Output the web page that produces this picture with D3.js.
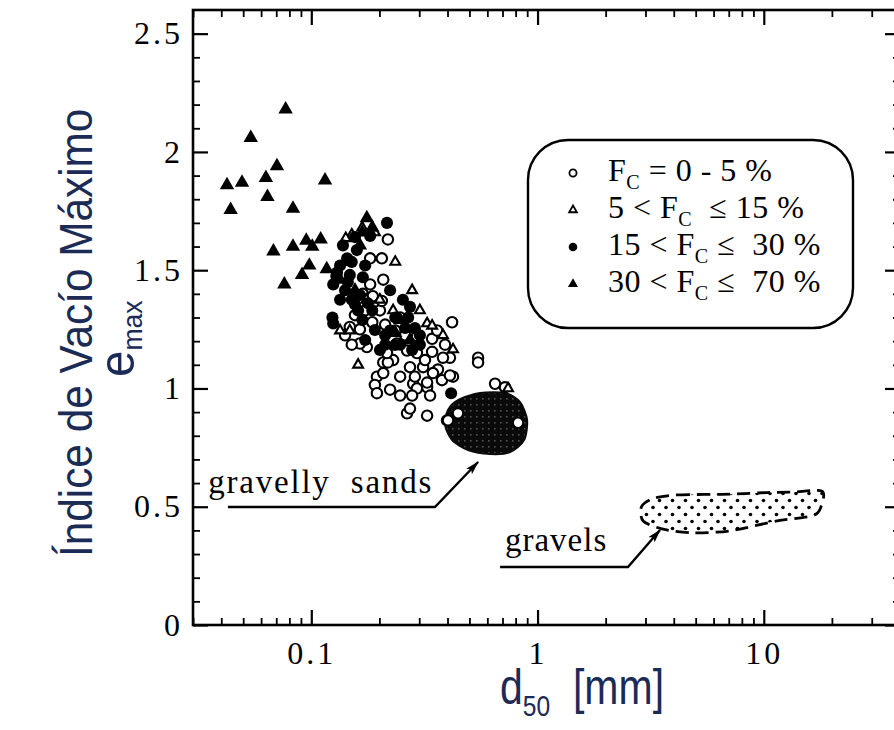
<!DOCTYPE html>
<html>
<head>
<meta charset="utf-8">
<script src="https://cdn.jsdelivr.net/npm/d3@7"></script>
<style>
  body { margin: 0; background: #fff; }
  svg { display: block; }
  text { white-space: pre; }
</style>
</head>
<body>
<svg id="chart" width="894" height="730"></svg>
<script>
// ---- axis ticks ----
const xTicks = [0.1, 1, 10];
const xTickLabels = ["0.1", "1", "10"];
const yTicks = [0, 0.5, 1, 1.5, 2, 2.5];
const yTickLabels = ["0", "0.5", "1", "1.5", "2", "2.5"];

// ---- series: [d50 (mm), e_max] ----
// Fc = 0 - 5 %  (open circles)
const fc0to5 = [
  [0.218,1.63],[0.205,1.55],[0.182,1.55],[0.208,1.46],[0.182,1.44],[0.169,1.40],[0.187,1.39],
  [0.164,1.25],[0.195,1.05],[0.191,1.015],[0.195,0.98],[0.208,1.11],[0.230,1.12],[0.247,1.05],
  [0.273,1.09],[0.282,1.02],[0.176,1.175],[0.164,1.19],[0.201,1.33],[0.205,1.37],[0.148,1.26],
  [0.141,1.225],[0.247,1.30],[0.239,1.19],[0.265,1.16],[0.419,1.28],[0.410,1.13],[0.546,1.13],
  [0.546,1.11],[0.293,1.22],[0.342,1.21],[0.293,1.15],[0.342,1.155],[0.382,1.13],[0.312,1.09],
  [0.363,1.08],[0.423,1.05],[0.378,1.035],[0.287,1.05],[0.325,1.005],[0.293,1.0],[0.649,1.02],
  [0.718,1.005],[0.265,0.895],[0.273,0.915],[0.325,0.885],[0.398,0.865],[0.218,1.11],[0.208,1.065],
  [0.216,1.15],[0.345,1.065],[0.325,1.025],[0.156,1.31],[0.186,1.28],[0.223,0.995],[0.247,0.97],
  [0.318,1.12],[0.390,1.185],[0.235,1.245],[0.445,0.895],[0.402,0.865],[0.820,0.855],[0.410,1.055],
  [0.173,1.33],[0.212,1.27],[0.260,1.225],[0.360,1.245],[0.151,1.185],[0.335,0.97],[0.279,0.97]
];
// 5 < Fc <= 15 %  (open triangles)
const fc5to15 = [
  [0.151,1.65],[0.142,1.635],[0.235,1.535],[0.279,1.415],[0.201,1.375],[0.161,1.10],[0.325,1.275],
  [0.382,1.225],[0.423,1.165],[0.741,1.0],[0.342,1.265],[0.148,1.245],[0.191,1.66],[0.134,1.245],
  [0.175,1.375],[0.230,1.33],[0.302,1.33],[0.168,1.68]
];
// 15 < Fc <= 30 %  (filled circles)
const fc15to30 = [
  [0.216,1.70],[0.223,1.415],[0.124,1.30],[0.125,1.275],[0.159,1.585],[0.144,1.55],[0.134,1.52],
  [0.129,1.475],[0.141,1.415],[0.151,1.375],[0.161,1.33],[0.168,1.29],[0.148,1.48],[0.182,1.645],
  [0.254,1.375],[0.273,1.345],[0.268,1.30],[0.287,1.255],[0.302,1.225],[0.223,1.245],[0.212,1.185],
  [0.247,1.185],[0.415,0.98],[0.134,1.375],[0.173,1.52],[0.156,1.64],[0.186,1.33],[0.302,1.185],
  [0.235,1.30],[0.138,1.605],[0.151,1.535],[0.130,1.49],[0.145,1.45],[0.164,1.395],[0.156,1.355],
  [0.125,1.44],[0.169,1.47],[0.178,1.36],[0.212,1.225],[0.2345,1.184],[0.260,1.256],[0.279,1.163],
  [0.191,1.247],[0.173,1.205],[0.201,1.163]
];
// 30 < Fc <= 70 %  (filled triangles)
const fc30to70 = [
  [0.077,2.18],[0.054,2.06],[0.0705,1.94],[0.0424,1.86],[0.0494,1.87],[0.063,1.89],[0.115,1.88],
  [0.064,1.81],[0.044,1.755],[0.083,1.76],[0.176,1.72],[0.186,1.68],[0.068,1.58],[0.083,1.60],
  [0.095,1.625],[0.101,1.60],[0.110,1.63],[0.098,1.52],[0.076,1.44],[0.091,1.48],[0.117,1.505],
  [0.168,1.66],[0.141,1.535],[0.156,1.415],[0.134,1.46],[0.247,1.29],[0.235,1.235],[0.273,1.205],
  [0.164,1.605]
];

// ---- regions ----
const gravellySandsZone = [
  [0.445,0.951],[0.557,0.981],[0.718,0.981],[0.837,0.942],[0.899,0.867],[0.872,0.782],
  [0.756,0.731],[0.617,0.723],[0.493,0.740],[0.419,0.782],[0.390,0.846],[0.402,0.909]
];
const gravelsZone = [
  [3.24,0.535],[4.14,0.550],[7.10,0.553],[10.34,0.560],[13.48,0.562],[18.1,0.566],
  [17.9,0.500],[16.52,0.462],[11.45,0.440],[7.10,0.398],[4.87,0.390],[3.59,0.405],
  [2.93,0.440],[2.88,0.500]
];

// ---- callouts ----
const calloutLabels = ["gravelly  sands", "gravels"];
const calloutAnchors = [[0.035, 0.558], [0.718, 0.313]];
const calloutPaths = [
  [[0.0428,0.499],[0.352,0.499],[0.546,0.689]],
  [[0.683,0.245],[2.51,0.245],[3.48,0.402]]
];

// ---- legend ----
const legendPre = ["", "5 < ", "15 < ", "30 < "];
const legendPost = [" = 0 - 5 %", "  \u2264 15 %", " \u2264  30 %", " \u2264  70 %"];

const svg = d3.select("#chart");
const ink = "#000";
const titleInk = "#1c2b55";
const serif = "'Liberation Serif', 'Times New Roman', serif";

const x = d3.scaleLog().domain([0.03, 40]).range([193, 900]);
const y = d3.scaleLinear().domain([0, 2.6]).range([625, 10]);

// ---- patterns / markers ----
const defs = svg.append("defs");
const tex = defs.append("pattern").attr("id", "sandTex")
  .attr("patternUnits", "userSpaceOnUse").attr("width", 6).attr("height", 6);
tex.append("rect").attr("width", 6).attr("height", 6).attr("fill", "#0a0a0a");
tex.append("rect").attr("x", 2).attr("y", 2).attr("width", 1.6).attr("height", 1.6).attr("fill", "#505050");

const dots = defs.append("pattern").attr("id", "gravelDots")
  .attr("patternUnits", "userSpaceOnUse").attr("width", 13).attr("height", 14);
dots.append("circle").attr("cx", 3).attr("cy", 3.5).attr("r", 1.8).attr("fill", ink);
dots.append("circle").attr("cx", 9.5).attr("cy", 10.5).attr("r", 1.8).attr("fill", ink);

defs.append("marker").attr("id", "arrow")
  .attr("viewBox", "0 0 14 8").attr("refX", 13).attr("refY", 4)
  .attr("markerUnits", "userSpaceOnUse").attr("markerWidth", 14).attr("markerHeight", 8)
  .attr("orient", "auto")
  .append("path").attr("d", "M0,0 L14,4 L0,8 L3,4 Z").attr("fill", ink);

// ---- axes ----
const xMinor = x.ticks().filter(v => Math.abs(Math.log10(v) - Math.round(Math.log10(v))) > 1e-6);
const yMinor = d3.range(0, 26).map(i => i / 10).filter(v => Math.abs(v * 2 - Math.round(v * 2)) > 1e-6);

function styleAxis(g, w) {
  g.select(".domain").remove();
  g.selectAll(".tick line").attr("stroke", ink).attr("stroke-width", w);
  g.selectAll(".tick text").attr("fill", ink)
    .attr("font-family", serif).attr("font-size", 32).attr("letter-spacing", 3);
}

// bottom
svg.append("g").attr("transform", `translate(0,${y(0)})`)
  .call(d3.axisBottom(x).tickValues(xTicks).tickFormat((d, i) => xTickLabels[i])
    .tickSize(-15).tickSizeOuter(0).tickPadding(16))
  .call(g => styleAxis(g, 2.2));
svg.append("g").attr("transform", `translate(0,${y(0)})`)
  .call(d3.axisBottom(x).tickValues(xMinor).tickFormat("").tickSize(-7).tickSizeOuter(0))
  .call(g => styleAxis(g, 1.8));
// top
svg.append("g").attr("transform", `translate(0,${y(2.6)})`)
  .call(d3.axisTop(x).tickValues(xTicks).tickFormat("").tickSize(-15).tickSizeOuter(0))
  .call(g => styleAxis(g, 2.2));
svg.append("g").attr("transform", `translate(0,${y(2.6)})`)
  .call(d3.axisTop(x).tickValues(xMinor).tickFormat("").tickSize(-7).tickSizeOuter(0))
  .call(g => styleAxis(g, 1.8));
// left
svg.append("g").attr("transform", `translate(${x(0.03)},0)`)
  .call(d3.axisLeft(y).tickValues(yTicks).tickFormat((d, i) => yTickLabels[i])
    .tickSize(-15).tickSizeOuter(0).tickPadding(10))
  .call(g => styleAxis(g, 2.2));
svg.append("g").attr("transform", `translate(${x(0.03)},0)`)
  .call(d3.axisLeft(y).tickValues(yMinor).tickFormat("").tickSize(-7).tickSizeOuter(0))
  .call(g => styleAxis(g, 1.8));
// right
svg.append("g").attr("transform", `translate(${x(40)},0)`)
  .call(d3.axisRight(y).tickValues(yTicks).tickFormat("").tickSize(-15).tickSizeOuter(0))
  .call(g => styleAxis(g, 2.2));
svg.append("g").attr("transform", `translate(${x(40)},0)`)
  .call(d3.axisRight(y).tickValues(yMinor).tickFormat("").tickSize(-7).tickSizeOuter(0))
  .call(g => styleAxis(g, 1.8));

// frame
svg.append("rect")
  .attr("x", x(0.03)).attr("y", y(2.6))
  .attr("width", x(40) - x(0.03)).attr("height", y(0) - y(2.6))
  .attr("fill", "none").attr("stroke", ink).attr("stroke-width", 2.6);

// ---- regions ----
const zoneLine = d3.line().x(d => x(d[0])).y(d => y(d[1])).curve(d3.curveCardinalClosed.tension(0.2));
svg.append("path").attr("d", zoneLine(gravellySandsZone))
  .attr("fill", "url(#sandTex)").attr("stroke", "#0a0a0a").attr("stroke-width", 2);
svg.append("path").attr("d", zoneLine(gravelsZone))
  .attr("fill", "url(#gravelDots)").attr("stroke", ink).attr("stroke-width", 2.8)
  .attr("stroke-dasharray", "13 7");

// ---- points ----
const plot = svg.append("g");
function drawSeries(data, type, size, fill, stroke, sw) {
  plot.append("g").selectAll("path").data(data).join("path")
    .attr("transform", d => `translate(${x(d[0])},${y(d[1])})`)
    .attr("d", d3.symbol().type(type).size(size))
    .attr("fill", fill).attr("stroke", stroke).attr("stroke-width", sw);
}
drawSeries(fc0to5, d3.symbolCircle, 85, "#fff", ink, 2.1);
drawSeries(fc5to15, d3.symbolTriangle, 42, "#fff", ink, 2.1);
drawSeries(fc15to30, d3.symbolCircle, 115, ink, "none", 0);
drawSeries(fc30to70, d3.symbolTriangle, 90, ink, "none", 0);

// ---- callouts ----
const calloutLine = d3.line().x(d => x(d[0])).y(d => y(d[1]));
calloutPaths.forEach((p, i) => {
  svg.append("path").attr("d", calloutLine(p))
    .attr("fill", "none").attr("stroke", ink).attr("stroke-width", 2.4)
    .attr("marker-end", "url(#arrow)");
  svg.append("text")
    .attr("x", x(calloutAnchors[i][0])).attr("y", y(calloutAnchors[i][1]))
    .attr("font-family", serif)
    .attr("font-size", 33).attr("letter-spacing", i === 0 ? 1.8 : 1).attr("fill", ink)
    .text(calloutLabels[i]);
});

// ---- legend ----
const lg = svg.append("g");
lg.append("rect").attr("x", 528).attr("y", 140).attr("width", 325).attr("height", 188)
  .attr("rx", 40).attr("ry", 40).attr("fill", "#fff").attr("stroke", ink).attr("stroke-width", 2.4);
const legendSym = [
  {type: d3.symbolCircle, size: 40, fill: "#fff", stroke: ink, sw: 1.8},
  {type: d3.symbolTriangle, size: 26, fill: "#fff", stroke: ink, sw: 1.8},
  {type: d3.symbolCircle, size: 58, fill: ink, stroke: "none", sw: 0},
  {type: d3.symbolTriangle, size: 44, fill: ink, stroke: "none", sw: 0}
];
legendSym.forEach((s, i) => {
  const by = 181 + i * 37;
  lg.append("path").attr("transform", `translate(573,${by - 8})`)
    .attr("d", d3.symbol().type(s.type).size(s.size))
    .attr("fill", s.fill).attr("stroke", s.stroke).attr("stroke-width", s.sw);
  const t = lg.append("text").attr("x", 608).attr("y", by)
    .attr("font-family", serif).attr("font-size", 32).attr("letter-spacing", 0.5).attr("fill", ink);
  t.append("tspan").text(legendPre[i] + "F");
  t.append("tspan").attr("font-size", 20).attr("dy", 8).text("C");
  t.append("tspan").attr("dy", -8).text(legendPost[i]);
});

// ---- axis titles ----
const sansNarrow = "'Liberation Sans Narrow', 'Arial Narrow', 'Liberation Sans', Arial, sans-serif";
svg.append("text")
  .attr("transform", "translate(92,557) rotate(-90) scale(0.92,1)")
  .attr("font-family", sansNarrow).attr("font-size", 46).attr("fill", titleInk)
  .text("Índice de Vacío Máximo");
const em = svg.append("text")
  .attr("transform", "translate(134,377) rotate(-90) scale(0.95,1)")
  .attr("font-family", sansNarrow).attr("font-size", 50).attr("fill", titleInk);
em.append("tspan").text("e");
em.append("tspan").attr("font-size", 28).attr("dy", 8).text("max");

const xt = svg.append("text")
  .attr("transform", "translate(500,704) scale(0.82,1)")
  .attr("font-family", sansNarrow).attr("font-size", 50).attr("fill", titleInk);
xt.append("tspan").text("d");
xt.append("tspan").attr("font-size", 30).attr("dy", 12).text("50");
xt.append("tspan").attr("dy", -12).text("  [mm]");
</script>
</body>
</html>
